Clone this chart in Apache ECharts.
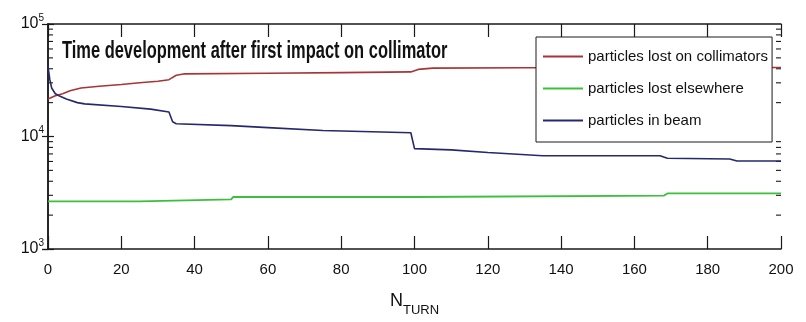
<!DOCTYPE html>
<html><head><meta charset="utf-8">
<script src="https://cdn.jsdelivr.net/npm/echarts@6/dist/echarts.min.js"></script>
<style>html,body{margin:0;padding:0;background:#fff}#c{width:806px;height:322px}</style>
</head><body><div id="c"></div>
<script>
// ---- data ----
const titleText = 'Time development after first impact on collimator';
const seriesNames = ['particles lost on collimators', 'particles lost elsewhere', 'particles in beam'];
const xTickValues = [0, 20, 40, 60, 80, 100, 120, 140, 160, 180, 200];
const yMinorTicks = [2000, 3000, 4000, 5000, 6000, 7000, 8000, 9000,
                     20000, 30000, 40000, 50000, 60000, 70000, 80000, 90000];
const lostOnCollimators = [[0, 21500], [2, 23000], [4, 24000], [6, 25500], [9, 27000], [14, 28000],
  [20, 29000], [25, 30000], [30, 31000], [33, 32000], [35, 35000], [37, 36000], [60, 36500],
  [80, 37000], [99, 37500], [101, 39500], [105, 40500], [130, 40800], [200, 41000]];
const lostElsewhere = [[0, 2650], [25, 2650], [25.5, 2760], [50, 2760], [50.5, 2900], [100, 2900],
  [100.5, 2980], [168, 2980], [169, 3120], [200, 3120]];
const inBeam = [[0, 42000], [0.5, 32000], [1, 27000], [2, 24000], [3, 23000], [5, 21500], [8, 20000],
  [10, 19500], [20, 18500], [28, 17500], [33, 16500], [34, 13500], [35, 13000], [50, 12500],
  [60, 12000], [75, 11300], [99, 10800], [100, 7800], [110, 7600], [120, 7200], [135, 6750],
  [167, 6750], [169, 6400], [186, 6300], [188, 6050], [200, 6050]];

const FONT = "'Liberation Sans', Arial, sans-serif";
const AX = '#1a1a1a';
const TXT = '#111';

const chart = echarts.init(document.getElementById('c'));
const supNum = v => Math.round(Math.log10(v));

chart.setOption({
  animation: false,
  backgroundColor: '#fff',
  graphic: [{
    type: 'text', left: 62, top: 40, z: 10, scaleX: 0.715,
    style: { text: titleText, font: 'bold 23px ' + FONT, fill: TXT }
  }],
  legend: {
    data: seriesNames, orient: 'vertical', left: 536, top: 37, z: 8,
    backgroundColor: '#fff', borderColor: AX, borderWidth: 1,
    padding: [12, 4, 14, 7], itemGap: 17, itemWidth: 40, itemHeight: 2, icon: 'rect',
    textStyle: { fontFamily: FONT, fontSize: 15, lineHeight: 15, color: TXT }
  },
  grid: { left: 48, right: 25, top: 24, bottom: 70 },
  xAxis: [{
    type: 'value', min: 0, max: 200, interval: 20,
    axisLine: { lineStyle: { color: AX, width: 1.5 } },
    axisTick: { inside: true, length: 13, lineStyle: { color: AX, width: 1.2 } },
    axisLabel: { fontFamily: FONT, fontSize: 15, color: TXT, margin: 13,
      customValues: xTickValues },
    splitLine: { show: false },
    name: '{n|N}{s|TURN}', nameLocation: 'middle', nameGap: 43,
    nameTextStyle: { rich: {
      n: { fontFamily: FONT, fontSize: 18, color: TXT, padding: [0, 0, 6, 0] },
      s: { fontFamily: FONT, fontSize: 13, color: TXT, verticalAlign: 'top', padding: [12, 0, 0, 0] }
    } }
  }, {
    type: 'value', min: 0, max: 200, interval: 20, position: 'top',
    axisLine: { show: true, lineStyle: { color: AX, width: 1.5 } },
    axisTick: { inside: true, length: 13, lineStyle: { color: AX, width: 1.2 } },
    axisLabel: { show: false }, splitLine: { show: false }
  }],
  yAxis: [{
    type: 'log', logBase: 10, min: 1000, max: 100000,
    axisLine: { show: true, lineStyle: { color: AX, width: 1.5 } },
    axisTick: { inside: true, length: 6, lineStyle: { color: AX, width: 1.2 } },
    axisLabel: {
      margin: 4, color: TXT,
      formatter: v => '{b|10}{s|' + supNum(v) + '}',
      rich: {
        b: { fontFamily: FONT, fontSize: 16, color: TXT },
        s: { fontFamily: FONT, fontSize: 10, color: TXT, verticalAlign: 'top', padding: [0, 0, 12, 0] }
      }
    },
    splitLine: { show: false }
  }, {
    type: 'log', logBase: 10, min: 1000, max: 100000, position: 'right',
    axisLine: { show: true, lineStyle: { color: AX, width: 1.5 } },
    axisTick: { inside: true, length: 6, lineStyle: { color: AX, width: 1.2 } },
    axisLabel: { show: false }, splitLine: { show: false }
  }],
  series: [
    {
      name: 'minor', type: 'custom', silent: true, z: 3,
      data: yMinorTicks.map(v => [v]),
      encode: { y: 0 },
      renderItem: (params, api) => {
        const v = api.value(0);
        const l = api.coord([0, v]);
        const r = api.coord([200, v]);
        const st = { stroke: AX, lineWidth: 1.1 };
        return { type: 'group', children: [
          { type: 'line', shape: { x1: l[0], y1: l[1], x2: l[0] + 5, y2: l[1] }, style: st },
          { type: 'line', shape: { x1: r[0], y1: r[1], x2: r[0] - 5, y2: r[1] }, style: st }
        ] };
      }
    },
    { name: seriesNames[1], type: 'line', data: lostElsewhere, symbol: 'none',
      lineStyle: { color: '#3cbf3c', width: 1.8 }, itemStyle: { color: '#3cbf3c' } },
    { name: seriesNames[0], type: 'line', data: lostOnCollimators, symbol: 'none',
      lineStyle: { color: '#a83438', width: 1.6 }, itemStyle: { color: '#a83438' } },
    { name: seriesNames[2], type: 'line', data: inBeam, symbol: 'none',
      lineStyle: { color: '#26286e', width: 1.6 }, itemStyle: { color: '#26286e' } }
  ]
});
</script>
</body></html>
